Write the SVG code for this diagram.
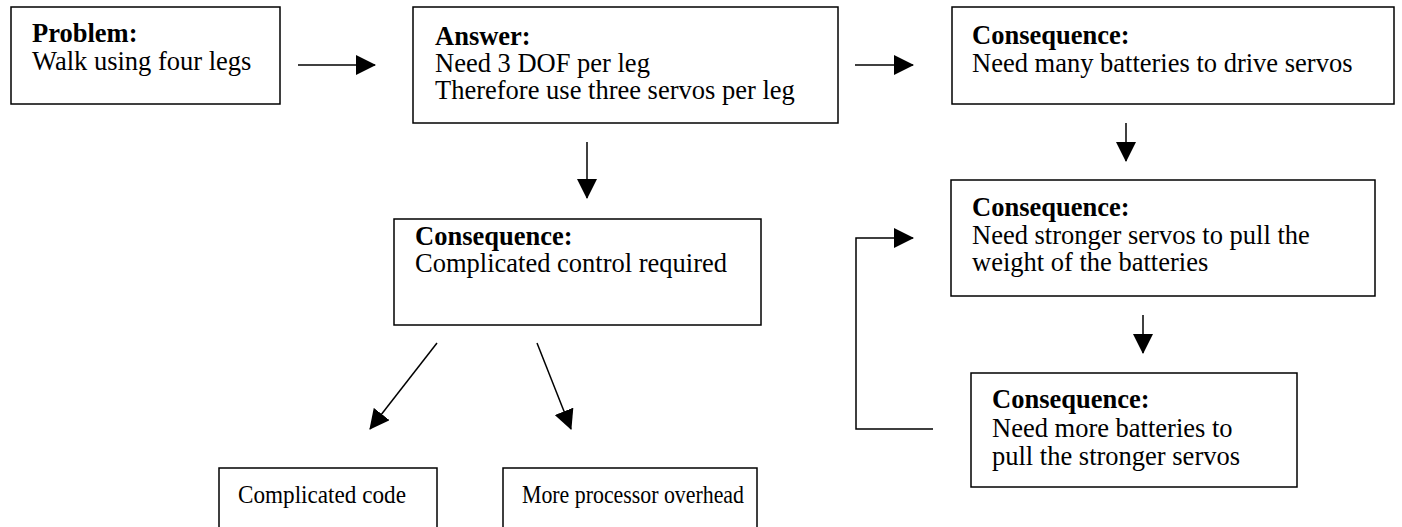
<svg xmlns="http://www.w3.org/2000/svg" width="1402" height="527" viewBox="0 0 1402 527">
<style>
.box{fill:#fff;stroke:#000;stroke-width:1.5}
text{font-family:"Liberation Serif","Times New Roman",serif;font-size:26.5px;fill:#000}
.b{font-weight:bold}
.s{font-size:25px}
.c{fill:none;stroke:#000;stroke-width:1.5}
</style>
<defs>
<marker id="ah" viewBox="0 0 20 20" refX="19" refY="10" markerWidth="20" markerHeight="20" markerUnits="userSpaceOnUse" orient="auto">
<path d="M0,0 L20,10 L0,20 z" fill="#000"/>
</marker>
</defs>
<rect width="1402" height="527" fill="#fff"/>
<g id="connectors">
<line class="c" x1="298" y1="65" x2="375" y2="65" marker-end="url(#ah)"/>
<line class="c" x1="855" y1="65" x2="913" y2="65" marker-end="url(#ah)"/>
<line class="c" x1="587" y1="142" x2="587" y2="198" marker-end="url(#ah)"/>
<line class="c" x1="1126" y1="123" x2="1126" y2="161" marker-end="url(#ah)"/>
<line class="c" x1="1143" y1="315" x2="1143" y2="353" marker-end="url(#ah)"/>
<polyline class="c" points="933,429 856,429 856,238 913,238" marker-end="url(#ah)"/>
<line class="c" x1="437" y1="343" x2="370" y2="429" marker-end="url(#ah)"/>
<line class="c" x1="537" y1="343" x2="571" y2="429" marker-end="url(#ah)"/>
</g>
<g id="problem">
<rect class="box" x="11" y="7" width="269" height="97"/>
<text x="32" y="42" class="b">Problem:</text>
<text x="32" y="70">Walk using four legs</text>
</g>
<g id="answer">
<rect class="box" x="413" y="7" width="425" height="116"/>
<text x="435" y="45" class="b">Answer:</text>
<text x="435" y="72">Need 3 DOF per leg</text>
<text x="435" y="99">Therefore use three servos per leg</text>
</g>
<g id="cons-batteries">
<rect class="box" x="952" y="7" width="442" height="97"/>
<text x="972" y="44" class="b">Consequence:</text>
<text x="972" y="72">Need many batteries to drive servos</text>
</g>
<g id="cons-stronger">
<rect class="box" x="951" y="180" width="424" height="116"/>
<text x="972" y="216" class="b">Consequence:</text>
<text x="972" y="244">Need stronger servos to pull the</text>
<text x="972" y="271">weight of the batteries</text>
</g>
<g id="cons-more">
<rect class="box" x="971" y="373" width="326" height="114"/>
<text x="992" y="408" class="b">Consequence:</text>
<text x="992" y="437">Need more batteries to</text>
<text x="992" y="465">pull the stronger servos</text>
</g>
<g id="cons-control">
<rect class="box" x="394" y="219" width="367" height="106"/>
<text x="415" y="245" class="b">Consequence:</text>
<text x="415" y="272">Complicated control required</text>
</g>
<g id="code">
<rect class="box" x="219" y="468" width="218" height="70"/>
<text x="238" y="503" class="s" textLength="168" lengthAdjust="spacingAndGlyphs">Complicated code</text>
</g>
<g id="overhead">
<rect class="box" x="503" y="468" width="254" height="70"/>
<text x="522" y="503" class="s" textLength="222" lengthAdjust="spacingAndGlyphs">More processor overhead</text>
</g>
</svg>
